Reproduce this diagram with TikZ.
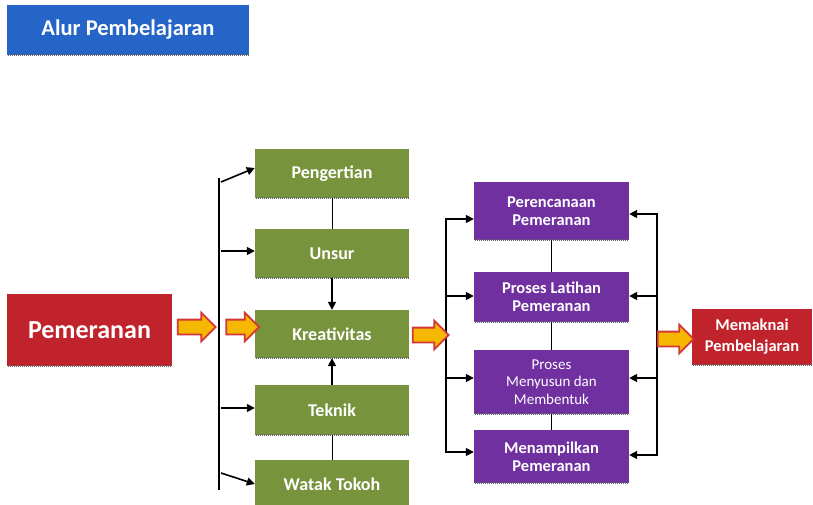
\documentclass[tikz,border=0pt]{standalone}
\usepackage{fontspec}
\setmainfont{Carlito}
\usetikzlibrary{calc,arrows.meta,shapes.arrows}
\definecolor{titleblue}{HTML}{2565C8}
\definecolor{boxred}{HTML}{C0232B}
\definecolor{boxgreen}{HTML}{77933C}
\definecolor{boxpurple}{HTML}{7030A0}
\definecolor{arrfill}{HTML}{F5B700}
\definecolor{arredge}{HTML}{D3363A}
\begin{document}
\begin{tikzpicture}[x=1pt,y=-1pt,
  box/.style={rectangle,inner sep=2pt,align=center,text=white,font=\bfseries},
  greenbox/.style={box,fill=boxgreen,minimum width=154pt,minimum height=49pt,font=\bfseries\fontsize{18}{20}\selectfont},
  purplebox/.style={box,fill=boxpurple,minimum width=155pt,font=\bfseries\fontsize{16.5}{18}\selectfont},
  bus/.style={line width=1.6pt,black},
  link/.style={line width=1.6pt,black,-{Triangle[length=8pt,width=8pt]}},
  thin link/.style={line width=0.8pt,black},
  yarrow/.style={single arrow,draw=arredge,fill=arrfill,line width=1.8pt,
    inner sep=0pt,single arrow head extend=7pt,text height=13pt},
  shadowline/.style={line width=1.8pt,black!60,dash pattern=on 1pt off 1pt}
]
\useasboundingbox (0,0) rectangle (813,504);

% heading
\node[box,fill=titleblue,minimum width=242pt,minimum height=50pt,
  font=\bfseries\fontsize{22.5}{25}\selectfont] (title) at (128,30) {Alur Pembelajaran};

% start box
\node[box,fill=boxred,minimum width=165pt,minimum height=72pt,
  font=\bfseries\fontsize{26}{29}\selectfont] (pem) at (89.5,330) {Pemeranan};

% first column
\node[greenbox] (peng) at (332,173.5) {Pengertian};
\node[greenbox] (unsur) at (332,253.5) {Unsur};
\node[greenbox,minimum height=48pt] (krea) at (332,334) {Kreativitas};
\node[greenbox,minimum height=50pt] (tek) at (332,410) {Teknik};
\node[greenbox,minimum height=48pt] (watak) at (332,484) {Watak Tokoh};

% second column
\node[purplebox,minimum height=58pt] (renc) at (551.5,211) {Perencanaan\\Pemeranan};
\node[purplebox,minimum height=50pt] (lat) at (551.5,297) {Proses Latihan\\Pemeranan};
\node[purplebox,minimum height=64pt,font=\fontsize{15}{17.5}\selectfont] (susun) at (551.5,382) {Proses\\Menyusun dan\\Membentuk};
\node[purplebox,minimum height=53pt] (tampil) at (551.5,456.5) {Menampilkan\\Pemeranan};

% end box
\node[box,fill=boxred,minimum width=120pt,minimum height=56pt,
  font=\bfseries\fontsize{16.5}{21}\selectfont] (makna) at (752,337) {Memaknai\\Pembelajaran};

% bottom edge shading of the boxes
\foreach \n in {title,pem,peng,unsur,krea,tek,renc,lat,susun,tampil,makna}
  \draw[shadowline] ($(\n.south west)+(1,0)$) -- ($(\n.south east)+(-1,0)$);

% distribution bus of the first column
\coordinate (gtop) at (221,182);
\coordinate (gbot) at (221,473);
\draw[bus] (219,178) -- (219,490);
\draw[link] (gtop) -- (peng.west |- 0,168);
\draw[link] (221,251) -- (unsur.west |- 0,251);
\draw[link] (221,408) -- (tek.west |- 0,408);
\draw[link] (gbot) -- (watak.west |- 0,484);

% links inside the first column
\draw[thin link] (peng.south) -- (unsur.north);
\draw[link] (unsur.south) -- (krea.north);
\draw[link] (tek.north) -- (krea.south);
\draw[thin link] (watak.north) -- (tek.south);

% buses of the second column
\draw[bus] (446,218) -- (446,453);
\draw[link] (446,219) -- (renc.west |- 0,219);
\draw[link] (446,296) -- (lat.west |- 0,296);
\draw[link] (446,378) -- (susun.west |- 0,378);
\draw[link] (446,452) -- (tampil.west |- 0,452);
\draw[bus] (657,213) -- (657,456);
\draw[link] (657,214) -- (renc.east |- 0,214);
\draw[link] (657,296) -- (lat.east |- 0,296);
\draw[link] (657,378) -- (susun.east |- 0,378);
\draw[link] (657,455) -- (tampil.east |- 0,455);
\draw[thin link] (renc.south) -- (lat.north);
\draw[thin link] (lat.south) -- (susun.north);
\draw[thin link] (susun.south) -- (tampil.north);

% block arrows
\node[yarrow,minimum height=38pt] (ya1) at (193,327) {};
\node[yarrow,minimum height=33pt] (ya2) at (239,327) {};
\node[yarrow,minimum height=36pt] (ya3) at (427,335) {};
\node[yarrow,minimum height=36pt] (ya4) at (672,339) {};
\end{tikzpicture}
\end{document}
